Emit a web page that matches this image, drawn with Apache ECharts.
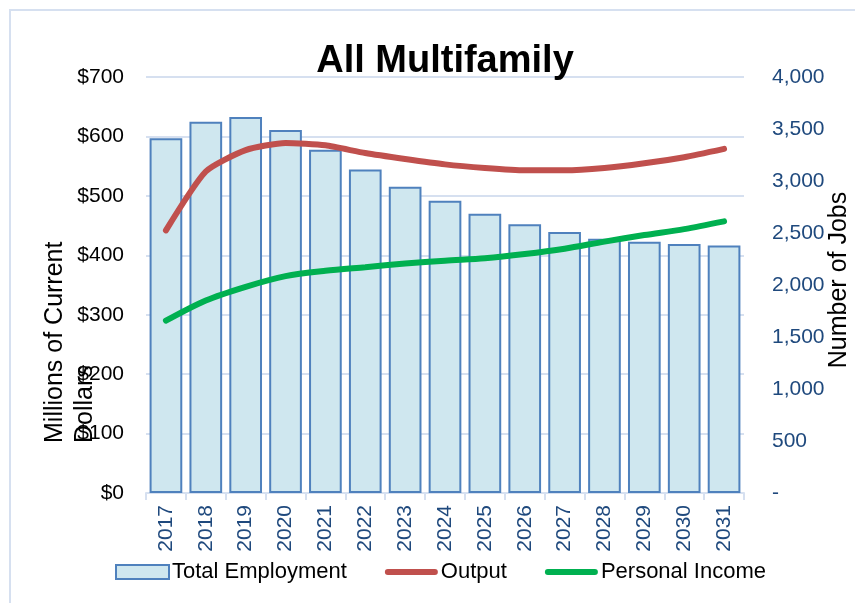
<!DOCTYPE html>
<html lang="en">

<head>
    <meta charset="UTF-8">
    <title>All Multifamily</title>
    <script src="https://cdn.jsdelivr.net/npm/echarts@6/dist/echarts.min.js"></script>
    <style>
        html, body { margin: 0; padding: 0; background: #fff; }
        #main { width: 855px; height: 603px; }
    </style>
</head>

<body>
    <div id="main"></div>
    <script>
    // data
    var years = ['2017', '2018', '2019', '2020', '2021', '2022', '2023', '2024',
        '2025', '2026', '2027', '2028', '2029', '2030', '2031'];
    // number of jobs (right axis)
    var totalEmployment = [3410, 3570, 3615, 3490, 3300, 3110, 2945, 2810,
        2685, 2585, 2510, 2445, 2415, 2395, 2380];
    // millions of current dollars (left axis)
    var output = [442, 541, 577, 589, 585, 572, 562, 553, 547, 543, 543, 547, 555, 565, 579];
    var personalIncome = [290, 324, 347, 365, 374, 380, 386, 391, 395, 402, 411, 423, 434, 444, 457];

    var font = "'Liberation Sans', Arial, sans-serif";
    var gridColor = '#d6e0f0';
    var blueText = '#1f497d';
    // thick rounded stroke used as legend icon for the lines
    var lineIcon = 'path://M3,0 L50,0 A3,3 0 0 1 50,6 L3,6 A3,3 0 0 1 3,0 Z';

    var myChart = echarts.init(document.getElementById('main'));

    var option = {
        animation: false,
        textStyle: { fontFamily: font },
        title: {
            text: 'All Multifamily',
            left: 440,
            textAlign: 'center',
            top: 38,
            textStyle: { fontFamily: font, fontSize: 38, fontWeight: 'bold', color: '#000' }
        },
        grid: { left: 146, right: 111, top: 77, bottom: 110 },
        legend: {
            left: 110,
            top: 556,
            itemWidth: 53,
            itemHeight: 14,
            itemGap: 38,
            textStyle: { fontFamily: font, fontSize: 22, color: '#000', padding: [0, 0, 0, -2] },
            data: [
                { name: 'Total Employment', icon: 'rect' },
                { name: 'Output', icon: lineIcon },
                { name: 'Personal Income', icon: lineIcon }
            ]
        },
        xAxis: {
            type: 'category',
            data: years,
            boundaryGap: true,
            axisLine: { lineStyle: { color: gridColor, width: 2 } },
            axisTick: { show: true, length: 7, lineStyle: { color: gridColor, width: 2 } },
            axisLabel: { rotate: 90, fontSize: 21, color: blueText, margin: 12, fontFamily: font }
        },
        yAxis: [{
            type: 'value',
            min: 0,
            max: 700,
            interval: 100,
            position: 'left',
            axisLine: { show: false },
            axisTick: { show: false },
            splitLine: { lineStyle: { color: gridColor, width: 2 } },
            axisLabel: {
                fontSize: 21, color: '#000', margin: 22, fontFamily: font,
                formatter: function(v) { return '$' + v; }
            }
        }, {
            type: 'value',
            min: 0,
            max: 4000,
            interval: 500,
            position: 'right',
            axisLine: { show: false },
            axisTick: { show: false },
            splitLine: { show: false },
            axisLabel: {
                fontSize: 21, color: blueText, margin: 28, fontFamily: font,
                formatter: function(v) { return v === 0 ? '-' : v.toLocaleString('en-US'); }
            }
        }],
        graphic: [{
            type: 'rect',
            z: -10,
            silent: true,
            shape: { x: 10, y: 10, width: 900, height: 700 },
            style: { fill: 'none', stroke: gridColor, lineWidth: 2 }
        }, {
            // left axis title, two lines, start aligned like excel
            type: 'text',
            x: 40,
            y: 443,
            rotation: Math.PI / 2,
            style: {
                text: 'Millions of Current\nDollars',
                font: '25px ' + font,
                fill: '#000',
                align: 'left',
                verticalAlign: 'top',
                lineHeight: 30
            }
        }, {
            type: 'text',
            x: 839,
            y: 280,
            rotation: Math.PI / 2,
            style: {
                text: 'Number of Jobs',
                font: '25px ' + font,
                fill: '#000',
                align: 'center',
                verticalAlign: 'middle'
            }
        }],
        series: [{
            name: 'Total Employment',
            type: 'bar',
            yAxisIndex: 1,
            data: totalEmployment,
            barCategoryGap: '18%',
            itemStyle: { color: '#cfe7ef', borderColor: '#4f81bd', borderWidth: 2 }
        }, {
            name: 'Output',
            type: 'line',
            yAxisIndex: 0,
            data: output,
            smooth: 0.2,
            symbol: 'none',
            lineStyle: { color: '#c0504d', width: 6, cap: 'round' },
            itemStyle: { color: '#c0504d' }
        }, {
            name: 'Personal Income',
            type: 'line',
            yAxisIndex: 0,
            data: personalIncome,
            smooth: 0.3,
            symbol: 'none',
            lineStyle: { color: '#00b050', width: 6, cap: 'round' },
            itemStyle: { color: '#00b050' }
        }]
    };

    myChart.setOption(option);
    </script>
</body>

</html>
